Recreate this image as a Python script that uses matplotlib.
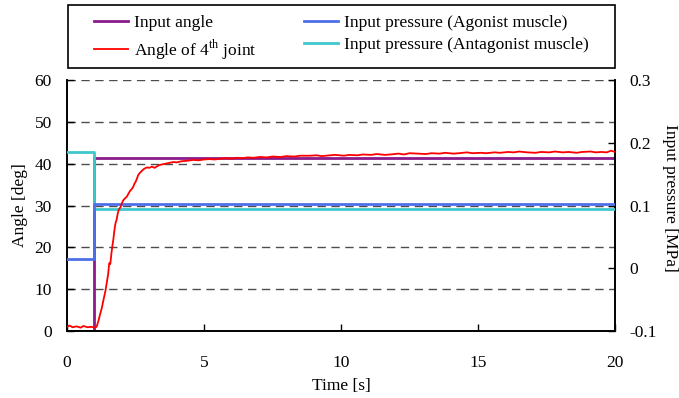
import matplotlib.pyplot as plt
from matplotlib.patches import Rectangle

plt.rcParams['font.family'] = ['Liberation Serif', 'DejaVu Serif']
plt.rcParams['font.size'] = 12.5
plt.rcParams['mathtext.fontset'] = 'custom'
plt.rcParams['mathtext.rm'] = 'Liberation Serif'

# input signals (step at t = 1 s)
t_step = [0, 1, 20]
input_angle = [0, 41.3, 41.3]
p_agonist = [0.015, 0.103, 0.103]
p_antagonist = [0.185, 0.095, 0.095]

t_joint = [0, 0.1, 0.2, 0.35, 0.5, 0.6, 0.75, 0.9, 1.0, 1.08, 1.15, 1.2, 1.27, 1.33,
           1.4, 1.45, 1.5, 1.54, 1.58, 1.62, 1.66, 1.69, 1.72, 1.75, 1.78, 1.81,
           1.85, 1.88, 1.92, 1.96, 2.0, 2.05, 2.1, 2.18, 2.25, 2.3, 2.36, 2.42,
           2.46, 2.5, 2.55, 2.6, 2.66, 2.72, 2.78, 2.85, 2.92, 3.0, 3.1, 3.2, 3.27,
           3.35, 3.45, 3.6, 3.75, 3.88, 4.0, 4.2, 4.4, 4.61, 4.8, 5.0, 5.2, 5.4,
           5.6, 5.83, 6.0, 6.2, 6.4, 6.6, 6.8, 7.04, 7.3, 7.5, 7.8, 8.0, 8.3, 8.5,
           8.87, 9.1, 9.3, 9.6, 9.8, 10.1, 10.3, 10.6, 10.8, 11.1, 11.3, 11.6, 11.8,
           12.1, 12.3, 12.5, 12.8, 13.1, 13.3, 13.6, 13.8, 14.1, 14.3, 14.6, 14.8,
           15.1, 15.3, 15.6, 15.8, 16.1, 16.3, 16.5, 16.8, 17.1, 17.3, 17.6, 17.8,
           18.1, 18.3, 18.6, 18.8, 19.1, 19.3, 19.5, 19.7, 19.85, 20]
angle_joint = [1.0, 1.3, 0.9, 1.1, 0.8, 1.2, 0.9, 1.0, 0.8, 1.0, 2.5, 3.8, 5.5, 7.4,
               9.5, 11.5, 13.5, 16.2, 16.0, 18.5, 20.5, 21.8, 23.5, 25.0, 26.0, 26.6,
               28.0, 28.8, 29.3, 29.7, 30.5, 31.2, 31.6, 32.1, 32.9, 33.5, 33.9, 34.5,
               35.2, 35.6, 36.4, 37.3, 37.8, 38.2, 38.6, 38.9, 39.1, 39.0, 39.3, 39.0,
               39.3, 39.6, 39.8, 40.0, 40.2, 40.4, 40.3, 40.6, 40.7, 40.9, 40.8, 41.0,
               41.1, 41.0, 41.2, 41.3, 41.2, 41.4, 41.3, 41.5, 41.4, 41.6, 41.5, 41.7,
               41.6, 41.8, 41.7, 41.9, 41.9, 42.0, 41.8, 42.0, 42.1, 41.9, 42.1, 42.0,
               42.2, 42.1, 42.3, 42.1, 42.2, 42.4, 42.2, 42.5, 42.4, 42.3, 42.5, 42.4,
               42.6, 42.4, 42.5, 42.7, 42.5, 42.6, 42.5, 42.7, 42.6, 42.8, 42.7, 42.9,
               42.7, 42.6, 42.8, 42.7, 42.9, 42.7, 42.8, 42.6, 42.8, 42.9, 42.7, 42.8,
               42.7, 43.1, 42.8]

W, H = 679, 398
fig = plt.figure(figsize=(W / 100, H / 100), dpi=100)
ax = fig.add_axes([67 / W, 67 / H, 548 / W, 251 / H])
bx = ax.twinx()

for y in [10, 20, 30, 40, 50, 60]:
    ax.axhline(y, color='0.3', lw=1, ls=(0, (6, 4)), zorder=0)

l1, = ax.plot(t_step, input_angle, drawstyle='steps-post', color='#8b1a8b', lw=2, zorder=2)
l3, = bx.plot(t_step, p_antagonist, drawstyle='steps-post', color='#3ec8cc', lw=2, zorder=3)
l2, = bx.plot(t_step, p_agonist, drawstyle='steps-post', color='#4f6fe8', lw=2, zorder=4)
l4, = bx.plot(t_joint, [-0.1 + a / 150 for a in angle_joint], color='#ff0000', lw=1.3, zorder=5)

ax.set_xlim(0, 20)
ax.set_ylim(0, 60)
bx.set_ylim(-0.1, 0.3)
ax.set_xticks([0, 5, 10, 15, 20])
ax.set_yticks([0, 10, 20, 30, 40, 50, 60])
bx.set_yticks([-0.1, 0, 0.1, 0.2, 0.3])
bx.set_yticklabels(['-0.1', '0', '0.1', '0.2', '0.3'])
ax.tick_params(axis='x', direction='in', length=5, width=1, pad=17)
ax.tick_params(axis='y', direction='in', length=5, width=1, pad=11)
bx.tick_params(direction='in', length=5, width=1, pad=10)
for a in (ax, bx):
    a.spines['top'].set_visible(False)
    for s in ['left', 'bottom', 'right']:
        a.spines[s].set_linewidth(1.2)

ax.set_xlabel('Time [s]', labelpad=5)
ax.set_ylabel('Angle [deg]', va='center')
ax.yaxis.set_label_coords((20 - 67) / 548, 0.5)
bx.set_ylabel('Input pressure [MPa]', rotation=270, va='center')
bx.yaxis.set_label_coords((670 - 67) / 548, 0.53)

# legend frame drawn separately so the columns sit where they do in the reference
fig.patches.append(Rectangle((68 / W, 1 - 68 / H), 547 / W, 63 / H, transform=fig.transFigure,
                             fill=False, edgecolor='black', lw=1.2))
fig.legend([l1, l4, l2, l3],
           ['Input angle', 'Angle of 4$^{\\mathrm{th}}$ joint',
            'Input pressure (Agonist muscle)', 'Input pressure (Antagonist muscle)'],
           ncol=2, loc='upper left', bbox_to_anchor=(94 / W, 1 - 15 / H, 495 / W, 0),
           mode='expand', frameon=False, handlelength=1.95, handletextpad=0.35,
           borderpad=0, labelspacing=0.35, borderaxespad=0, fontsize=12.5)

fig.savefig('out.png', dpi=100)
